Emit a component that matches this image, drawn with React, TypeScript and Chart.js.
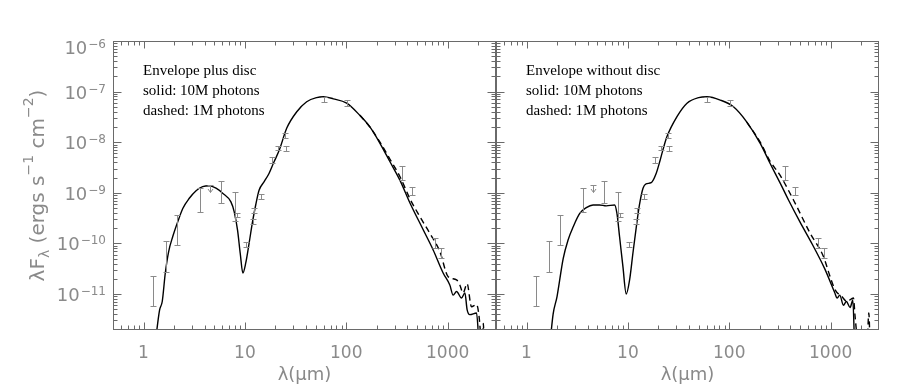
import React, { useEffect, useRef } from "react";
import { Chart, registerables } from "chart.js";

Chart.register(...registerables);

// ---------------- data ----------------
const X_MIN = 0.5;
const X_MAX = 3000;
const Y_MIN = 1.94e-12;
const Y_MAX = 1e-6;

const X_TICKS = [1, 10, 100, 1000];
const X_TICK_LABELS = ["1", "10", "100", "1000"];
const Y_TICKS = [1e-6, 1e-7, 1e-8, 1e-9, 1e-10, 1e-11];
const Y_TICK_EXPONENTS = ["−6", "−7", "−8", "−9", "−10", "−11"];

const X_TITLE = "λ(μm)";
const LEFT_NOTES = ["Envelope plus disc", "solid: 10M photons", "dashed: 1M photons"];
const RIGHT_NOTES = ["Envelope without disc", "solid: 10M photons", "dashed: 1M photons"];

// Envelope plus disc: 10M photons (solid)
const LEFT_SOLID_LAMBDA = [1.30, 1.44, 1.53, 1.64, 1.77, 1.94, 2.18, 2.44, 2.83, 3.30, 3.83, 4.46, 5.19, 6.03, 7.28, 7.85, 8.47, 9.0, 9.55, 10.2, 11.0, 11.9, 12.8, 13.8, 15.5, 17.3, 19.4, 21.8, 25.9, 32.5, 40.7, 51, 59.3, 74.5, 101, 136, 171, 215, 270, 338, 425, 574, 720, 903, 1051, 1133, 1225, 1370, 1480, 1556, 1656, 1928, 2040];
const LEFT_SOLID_FLUX = [1.0e-12, 4.8e-12, 7.1e-12, 2.6e-11, 6.9e-11, 1.35e-10, 2.7e-10, 4.9e-10, 7.8e-10, 1.10e-9, 1.32e-9, 1.38e-9, 1.23e-9, 9.8e-10, 6.6e-10, 4.2e-10, 1.8e-10, 6.3e-11, 2.6e-11, 4.1e-11, 1.0e-10, 2.7e-10, 5.8e-10, 1.12e-9, 1.66e-9, 2.4e-9, 4.1e-9, 6.9e-9, 1.9e-8, 4.0e-8, 6.3e-8, 7.6e-8, 7.9e-8, 7.2e-8, 5.9e-8, 3.4e-8, 2.0e-8, 9.5e-9, 4.1e-9, 1.78e-9, 6.3e-10, 1.86e-10, 7.4e-11, 2.6e-11, 1.5e-11, 9.5e-12, 1.12e-11, 8.3e-12, 1.05e-11, 4.9e-12, 3.9e-12, 4.2e-12, 1.0e-12];

// Envelope plus disc: 1M photons (dashed)
const LEFT_DASHED_LAMBDA = [136, 171, 215, 270, 338, 425, 531, 668, 838, 1012, 1225, 1318, 1422, 1556, 1718, 1928, 2042, 2150, 2200, 2210, 2250, 2290];
const LEFT_DASHED_FLUX = [3.4e-8, 2.0e-8, 1.0e-8, 4.6e-9, 2.1e-9, 7.6e-10, 3.4e-10, 1.58e-10, 6.9e-11, 2.2e-11, 1.9e-11, 1.5e-11, 1.05e-11, 1.6e-11, 5.6e-12, 6.2e-12, 3.6e-12, 1.0e-12, null, 1.0e-12, 2.6e-12, 1.0e-12];

// Envelope without disc: 10M photons (solid)
const RIGHT_SOLID_LAMBDA = [1.70, 1.83, 2.0, 2.30, 2.57, 2.88, 3.35, 3.89, 4.53, 5.26, 6.12, 7.39, 7.80, 8.28, 8.93, 9.63, 10.4, 11.2, 12.1, 13.0, 14.1, 15.1, 17.0, 19.0, 20.8, 22.1, 24.3, 30.5, 38.3, 49.9, 60.3, 81.5, 110, 149, 202, 253, 318, 384, 501, 661, 871, 1096, 1160, 1230, 1337, 1430, 1556, 1656, 1720];
const RIGHT_SOLID_FLUX = [1.0e-12, 4.0e-12, 8.9e-12, 5.0e-11, 1.17e-10, 2.1e-10, 3.9e-10, 5.1e-10, 5.75e-10, 5.75e-10, 5.5e-10, 5.75e-10, 3.9e-10, 1.35e-10, 3.5e-11, 1.0e-11, 1.9e-11, 6.3e-11, 2.1e-10, 5.75e-10, 1.23e-9, 1.5e-9, 1.58e-9, 2.4e-9, 4.4e-9, 6.9e-9, 1.29e-8, 3.2e-8, 5.9e-8, 7.6e-8, 7.9e-8, 6.8e-8, 5.0e-8, 2.5e-8, 9.5e-9, 3.8e-9, 1.55e-9, 7.2e-10, 2.6e-10, 9.5e-11, 3.2e-11, 1.07e-11, 8.3e-12, 9.5e-12, 6.0e-12, 7.1e-12, 5.4e-12, 7.6e-12, 1.0e-12];

// Envelope without disc: 1M photons (dashed)
const RIGHT_DASHED_LAMBDA = [149, 202, 253, 318, 430, 628, 849, 988, 1107, 1288, 1445, 1679, 1742, 1850, 2000, 2300, 2380, 2450];
const RIGHT_DASHED_FLUX = [2.5e-8, 1.0e-8, 4.2e-9, 2.2e-9, 7.2e-10, 1.58e-10, 5.5e-11, 2.2e-11, 1.2e-11, 8.9e-12, 7.1e-12, 8.3e-12, 3.6e-12, 1.0e-12, null, 1.0e-12, 4.2e-12, 1.0e-12];

// Observed photometry (same in both panels)
const OBS_LAMBDA = [1.25, 1.66, 2.16, 3.63, 4.5, 5.83, 8.03, 8.3, 10.2, 11.9, 12.4, 14.4, 18.4, 21.4, 25.0, 25.5, 60.7, 101, 351, 441, 748, 857];
const OBS_LOW = [5.8e-12, 2.7e-11, 9.3e-11, 4.2e-10, 1.05e-9, 6.3e-10, 2.8e-10, 3.3e-10, 8.5e-11, 2.45e-10, 4.0e-10, 7.6e-10, 3.8e-9, 6.9e-9, 1.2e-8, 6.8e-9, 6.3e-8, 5.1e-8, 1.78e-9, 9.1e-10, 8.1e-11, 5.2e-11];
const OBS_HIGH = [2.3e-11, 1.12e-10, 3.7e-10, 1.25e-9, 1.4e-9, 1.74e-9, 1.05e-9, 3.9e-10, 1.05e-10, 3.1e-10, 5.1e-10, 9.3e-10, 5.2e-9, 8.3e-9, 1.5e-8, 8.3e-9, 7.9e-8, 6.8e-8, 3.4e-9, 1.32e-9, 1.29e-10, 8.1e-11];
const OBS_UPPER_LIMIT = [false, false, false, false, true, false, false, false, false, false, false, false, false, false, false, false, false, false, false, false, false, false];

// ---------------- styles ----------------
const AXIS_COLOR = "#6a6a6a";
const LABEL_COLOR = "#8a8a8a";
const ERR_COLOR = "#8a8a8a";
const SANS = '"DejaVu Sans", sans-serif';
const SERIF = '"Liberation Serif", "Times New Roman", serif';

function minorTicks(min: number, max: number): number[] {
  const out: number[] = [];
  for (let k = Math.floor(Math.log10(min)); k <= Math.ceil(Math.log10(max)); k++) {
    for (let m = 2; m <= 9; m++) {
      const v = m * Math.pow(10, k);
      if (v > min * 1.0001 && v < max * 0.9999) out.push(v);
    }
  }
  return out;
}

function toPoints(l: number[], f: (number | null)[]) {
  return l.map((x, i) => ({ x, y: f[i] }));
}

const Y_TITLE_PARTS: [string, number][] = [
  ["λF", 0],
  ["λ", -1],
  [" (ergs s", 0],
  ["−1", 1],
  [" cm", 0],
  ["−2", 1],
  [")", 0],
];

const sedPlugin = {
  id: "sed",
  afterDatasetsDraw(chart: any) {
    const { ctx, chartArea: a, scales } = chart;
    const xs = scales.x;
    const ys = scales.y;
    ctx.save();
    ctx.beginPath();
    ctx.rect(a.left, a.top, a.right - a.left, a.bottom - a.top);
    ctx.clip();
    ctx.strokeStyle = ERR_COLOR;
    ctx.lineWidth = 1;
    OBS_LAMBDA.forEach((l, i) => {
      const px = Math.round(xs.getPixelForValue(l)) + 0.5;
      const y1 = Math.round(ys.getPixelForValue(OBS_LOW[i])) + 0.5;
      const y2 = Math.round(ys.getPixelForValue(OBS_HIGH[i])) + 0.5;
      ctx.beginPath();
      ctx.moveTo(px, y1);
      ctx.lineTo(px, y2);
      ctx.moveTo(px - 3, y2);
      ctx.lineTo(px + 3, y2);
      if (OBS_UPPER_LIMIT[i]) {
        ctx.moveTo(px - 2.5, y1 - 3.5);
        ctx.lineTo(px, y1);
        ctx.lineTo(px + 2.5, y1 - 3.5);
      } else {
        ctx.moveTo(px - 3, y1);
        ctx.lineTo(px + 3, y1);
      }
      ctx.stroke();
    });
    ctx.restore();
  },
  afterDraw(chart: any, _args: any, opts: any) {
    const { ctx, chartArea: a, scales } = chart;
    const xs = scales.x;
    const ys = scales.y;
    const L = a.left + 0.5;
    const R = a.right - 0.5;
    const T = a.top + 0.5;
    const B = a.bottom - 0.5;
    ctx.save();
    ctx.strokeStyle = AXIS_COLOR;
    ctx.lineWidth = 1;
    ctx.strokeRect(L, T, R - L, B - T);
    ctx.beginPath();
    const xMinor = minorTicks(X_MIN, X_MAX);
    const xTick = (v: number, len: number) => {
      const px = Math.round(xs.getPixelForValue(v)) + 0.5;
      ctx.moveTo(px, B);
      ctx.lineTo(px, B - len);
      ctx.moveTo(px, T);
      ctx.lineTo(px, T + len);
    };
    X_TICKS.forEach((v) => xTick(v, 7));
    xMinor.forEach((v) => xTick(v, 4));
    const yMinor = minorTicks(Y_MIN, Y_MAX);
    const yTick = (v: number, len: number) => {
      const py = Math.round(ys.getPixelForValue(v)) + 0.5;
      ctx.moveTo(L, py);
      ctx.lineTo(L + len, py);
      ctx.moveTo(R, py);
      ctx.lineTo(R - len, py);
    };
    Y_TICKS.forEach((v) => yTick(v, 8));
    yMinor.forEach((v) => yTick(v, 4));
    ctx.stroke();

    if (opts.yLabels) {
      ctx.fillStyle = LABEL_COLOR;
      ctx.textBaseline = "alphabetic";
      ctx.textAlign = "left";
      const rightEdge = a.left - 7;
      Y_TICKS.forEach((v, i) => {
        const py = ys.getPixelForValue(v);
        const cy = Math.max(py, a.top + 6);
        const exp = Y_TICK_EXPONENTS[i];
        ctx.font = `12px ${SANS}`;
        const ew = ctx.measureText(exp).width;
        ctx.font = `18px ${SANS}`;
        const bw = ctx.measureText("10").width;
        ctx.fillText("10", rightEdge - ew - 1 - bw, cy + 7);
        ctx.font = `12px ${SANS}`;
        ctx.fillText(exp, rightEdge - ew, cy + 1);
      });

      ctx.save();
      ctx.translate(44, (a.top + a.bottom) / 2);
      ctx.rotate(-Math.PI / 2);
      let total = 0;
      const widths = Y_TITLE_PARTS.map(([t, k]) => {
        ctx.font = `${k === 0 ? 20 : 14}px ${SANS}`;
        const w = ctx.measureText(t).width;
        total += w;
        return w;
      });
      let x = -total / 2;
      Y_TITLE_PARTS.forEach(([t, k], i) => {
        ctx.font = `${k === 0 ? 20 : 14}px ${SANS}`;
        ctx.fillText(t, x, k === 1 ? -11 : k === -1 ? 5 : 0);
        x += widths[i];
      });
      ctx.restore();
    }

    ctx.fillStyle = "#000";
    ctx.font = `15px ${SERIF}`;
    ctx.textAlign = "left";
    ctx.textBaseline = "alphabetic";
    (opts.notes as string[]).forEach((s, i) => {
      ctx.fillText(s, a.left + 30, a.top + 34 + 20 * i);
    });
    ctx.restore();
  },
};

type PanelProps = {
  left: number;
  padLeft: number;
  padRight: number;
  yLabels: boolean;
  notes: string[];
  solidL: number[];
  solidF: (number | null)[];
  dashL: number[];
  dashF: (number | null)[];
};

function Panel(p: PanelProps) {
  const ref = useRef<HTMLCanvasElement | null>(null);
  useEffect(() => {
    if (!ref.current) return;
    const chart = new Chart(ref.current, {
      type: "line",
      data: {
        datasets: [
          {
            data: toPoints(p.solidL, p.solidF) as any,
            borderColor: "#000",
            borderWidth: 1.4,
            pointRadius: 0,
            cubicInterpolationMode: "monotone",
            spanGaps: false,
          },
          {
            data: toPoints(p.dashL, p.dashF) as any,
            borderColor: "#000",
            borderWidth: 1.4,
            borderDash: [6, 4],
            pointRadius: 0,
            cubicInterpolationMode: "monotone",
            spanGaps: false,
          },
        ],
      },
      options: {
        responsive: false,
        animation: false,
        devicePixelRatio: 1,
        events: [],
        layout: { padding: { left: p.padLeft, right: p.padRight, top: 41, bottom: 0 } },
        plugins: {
          legend: { display: false },
          tooltip: { enabled: false },
          sed: { yLabels: p.yLabels, notes: p.notes },
        } as any,
        scales: {
          x: {
            type: "logarithmic",
            min: X_MIN,
            max: X_MAX,
            afterBuildTicks: (s: any) => {
              s.ticks = X_TICKS.map((v) => ({ value: v }));
            },
            afterFit: (s: any) => {
              s.height = 61;
            },
            grid: { display: false, drawTicks: false },
            border: { display: false },
            ticks: {
              autoSkip: false,
              maxRotation: 0,
              minRotation: 0,
              padding: 13,
              color: LABEL_COLOR,
              font: { family: SANS, size: 17 },
              callback: (v: any) => {
                const i = X_TICKS.indexOf(Number(v));
                return i >= 0 ? X_TICK_LABELS[i] : "";
              },
            },
            title: {
              display: true,
              text: X_TITLE,
              color: LABEL_COLOR,
              font: { family: SANS, size: 18 },
              padding: { top: 0, bottom: 5 },
            },
          },
          y: {
            type: "logarithmic",
            min: Y_MIN,
            max: Y_MAX,
            display: false,
          },
        },
      } as any,
      plugins: [sedPlugin as any],
    });
    return () => chart.destroy();
  }, []);
  return (
    <canvas
      ref={ref}
      width={500}
      height={391}
      style={{ position: "absolute", left: p.left, top: 0, width: 500, height: 391 }}
    />
  );
}

export default function App() {
  return (
    <div
      style={{
        position: "fixed",
        left: 0,
        top: 0,
        width: 900,
        height: 391,
        background: "#fff",
        overflow: "hidden",
      }}
    >
      <Panel
        left={0}
        padLeft={113}
        padRight={4}
        yLabels={true}
        notes={LEFT_NOTES}
        solidL={LEFT_SOLID_LAMBDA}
        solidF={LEFT_SOLID_FLUX}
        dashL={LEFT_DASHED_LAMBDA}
        dashF={LEFT_DASHED_FLUX}
      />
      <Panel
        left={400}
        padLeft={96}
        padRight={21}
        yLabels={false}
        notes={RIGHT_NOTES}
        solidL={RIGHT_SOLID_LAMBDA}
        solidF={RIGHT_SOLID_FLUX}
        dashL={RIGHT_DASHED_LAMBDA}
        dashF={RIGHT_DASHED_FLUX}
      />
    </div>
  );
}
